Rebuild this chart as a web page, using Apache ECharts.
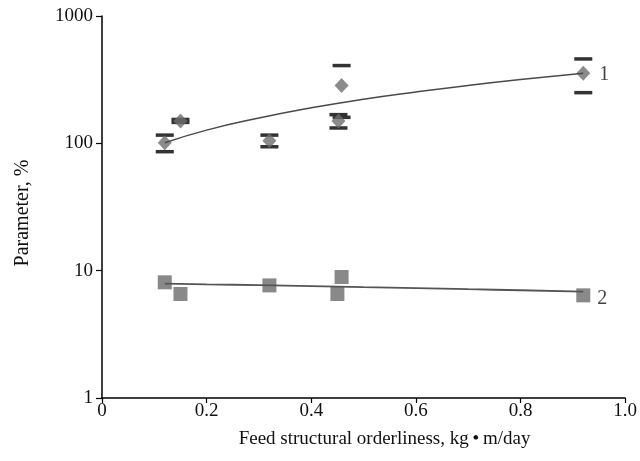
<!DOCTYPE html>
<html><head><meta charset="utf-8">
<script src="https://cdn.jsdelivr.net/npm/echarts@6/dist/echarts.min.js"></script>
<style>html,body{margin:0;padding:0;background:#fff}#c{width:640px;height:461px}</style>
</head><body><div id="c"></div>
<script>
// Series 1 (diamonds with error caps)
var s1X = [0.12, 0.15, 0.32, 0.452, 0.458, 0.92];
var s1Y = [101, 150, 105, 150, 284, 355];
var s1Err = [15, 4, 11, 18, 124, 105];
// Series 2 (squares)
var s2X = [0.12, 0.15, 0.32, 0.45, 0.458, 0.92];
var s2Y = [8.1, 6.56, 7.66, 6.56, 8.92, 6.4];
// Trend curves
var trendX = [0.12, 0.2, 0.3, 0.4, 0.5, 0.6, 0.7, 0.8, 0.92];
var trend1 = [101, 127, 158, 190, 222, 253, 285, 317, 355];
var trend2 = [7.9, 7.8, 7.7, 7.55, 7.42, 7.3, 7.15, 7.02, 6.85];
var xTicks = ['0', '0.2', '0.4', '0.6', '0.8', '1.0'];
var yTicks = {1: '1', 10: '10', 100: '100', 1000: '1000'};
var seriesLabels = ['1', '2'];

var font = 'Liberation Serif';
var chart = echarts.init(document.getElementById('c'), null, {renderer: 'canvas'});
function pairs(xs, ys) { return xs.map(function (x, i) { return [x, ys[i]]; }); }
var capData = s1X.map(function (x, i) { return [x, s1Y[i] - s1Err[i], s1Y[i] + s1Err[i]]; });

chart.setOption({
  animation: false,
  backgroundColor: '#fff',
  grid: {left: 102, right: 13, top: 16, bottom: 63},
  xAxis: {
    type: 'value', min: 0, max: 1, interval: 0.2,
    name: 'Feed structural orderliness, kg\u2009\u2022\u2009m/day',
    nameLocation: 'middle', nameGap: 32,
    nameTextStyle: {fontFamily: font, fontSize: 19, color: '#111', padding: [0, 0, 0, 42]},
    axisLine: {lineStyle: {color: '#000', width: 1.5}},
    axisTick: {length: 5, lineStyle: {color: '#000', width: 1.2}},
    axisLabel: {fontFamily: font, fontSize: 19, color: '#111', margin: 4,
      formatter: function (v) { return xTicks[Math.round(v / 0.2)]; }},
    splitLine: {show: false}
  },
  yAxis: {
    type: 'log', logBase: 10, min: 1, max: 1000,
    name: 'Parameter, %', nameLocation: 'middle', nameGap: 69,
    nameTextStyle: {fontFamily: font, fontSize: 20, color: '#111', padding: [0, 12, 0, 0]},
    axisLine: {show: true, lineStyle: {color: '#000', width: 1.5}},
    axisTick: {show: true, length: 6, lineStyle: {color: '#000', width: 1.2}},
    axisLabel: {fontFamily: font, fontSize: 19, color: '#111', margin: 9,
      formatter: function (v) { return yTicks[Math.round(v)] || String(v); }},
    splitLine: {show: false}
  },
  series: [
    {
      type: 'custom', z: 3,
      data: capData,
      renderItem: function (params, api) {
        var lo = api.coord([api.value(0), api.value(1)]);
        var hi = api.coord([api.value(0), api.value(2)]);
        var w = 18, h = 3.5;
        return {type: 'group', children: [
          {type: 'rect', shape: {x: lo[0] - w / 2, y: lo[1] - h / 2, width: w, height: h}, style: {fill: '#333'}},
          {type: 'rect', shape: {x: hi[0] - w / 2, y: hi[1] - h / 2, width: w, height: h}, style: {fill: '#333'}}
        ]};
      }
    },
    {
      type: 'scatter', z: 4, symbol: 'diamond', symbolSize: [14, 15],
      itemStyle: {color: '#6e6e6e'},
      data: pairs(s1X, s1Y).map(function (p, i) {
        return i === s1X.length - 1 ? {value: p, label: {show: true, formatter: seriesLabels[0]}} : p;
      }),
      label: {position: 'right', distance: 9, fontFamily: font, fontSize: 20, color: '#111', offset: [0, 1]}
    },
    {
      type: 'scatter', z: 4, symbol: 'rect', symbolSize: 14,
      itemStyle: {color: '#6b6b6b'},
      data: pairs(s2X, s2Y).map(function (p, i) {
        return i === s2X.length - 1 ? {value: p, label: {show: true, formatter: seriesLabels[1]}} : p;
      }),
      label: {position: 'right', distance: 7, fontFamily: font, fontSize: 20, color: '#111', offset: [0, 3]}
    },
    {
      type: 'line', z: 5, smooth: true, symbol: 'none',
      lineStyle: {color: '#4a4a4a', width: 1.5},
      data: pairs(trendX, trend1)
    },
    {
      type: 'line', z: 5, smooth: true, symbol: 'none',
      lineStyle: {color: '#555', width: 1.8},
      data: pairs(trendX, trend2)
    }
  ]
});
</script></body></html>
